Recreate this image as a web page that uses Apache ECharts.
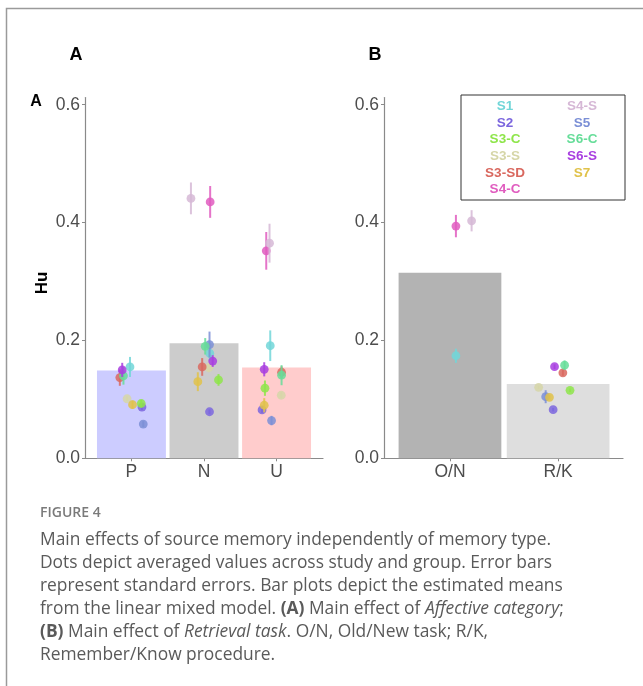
<!DOCTYPE html>
<html>
<head>
<meta charset="utf-8">
<script src="https://cdn.jsdelivr.net/npm/echarts@6/dist/echarts.min.js"></script>
<style>
  html, body { margin: 0; padding: 0; background: #ffffff; }
  #chart { width: 643px; height: 686px; }
</style>
</head>
<body>
<div id="chart"></div>
<script>
// ---- Studies and their colours ----
const studies = ['S1', 'S2', 'S3-C', 'S3-S', 'S3-SD', 'S4-C', 'S4-S', 'S5', 'S6-C', 'S6-S', 'S7'];
const studyColors = ['#72d6d8', '#7b66de', '#8ee54a', '#d6d6a8', '#d9685f', '#e05cbf',
                     '#d6b8d6', '#7b8fd6', '#66dd99', '#a83ee0', '#e0c24a'];

// ---- Panel A: affective category ----
const categoriesA = ['P', 'N', 'U'];
const barMeansA = [0.149, 0.195, 0.154];
const barColorsA = ['#ccccff', '#cccccc', '#ffcccc'];

// study means, standard errors and horizontal jitter (category units), null = not tested
const meansP  = [0.155, 0.087, 0.093, 0.101, 0.137, null, null, 0.058, 0.140, 0.150, 0.091];
const seP     = [0.017, 0.005, 0.006, 0.004, 0.014, null, null, 0.005, 0.015, 0.012, 0.007];
const jitterP = [-0.02, 0.145, 0.135, -0.06, -0.16, null, null, 0.163, -0.11, -0.127, 0.015];

const meansN  = [0.178, 0.079, 0.133, 0.154, 0.155, 0.435, 0.441, 0.193, 0.190, 0.165, 0.130];
const seN     = [0.012, 0.004, 0.010, 0.008, 0.015, 0.027, 0.027, 0.022, 0.014, 0.010, 0.016];
const jitterN = [0.08, 0.076, 0.2, 0.066, -0.025, 0.085, -0.18, 0.076, 0.017, 0.12, -0.085];

const meansU  = [0.191, 0.082, 0.119, 0.107, 0.146, 0.352, 0.365, 0.064, 0.141, 0.151, 0.090];
const seU     = [0.026, 0.005, 0.013, 0.005, 0.010, 0.032, 0.033, 0.008, 0.017, 0.012, 0.012];
const jitterU = [-0.087, -0.2, -0.16, 0.065, 0.069, -0.142, -0.097, -0.069, 0.069, -0.17, -0.17];

// ---- Panel B: retrieval task ----
const categoriesB = ['O/N', 'R/K'];
const barMeansB = [0.315, 0.126];
const barColorsB = ['#b3b3b3', '#dedede'];

const meansON  = [0.174, null, null, null, null, 0.394, 0.403, null, null, null, null];
const seON     = [0.012, null, null, null, null, 0.019, 0.018, null, null, null, null];
const jitterON = [0.055, null, null, null, null, 0.055, 0.2, null, null, null, null];

const meansRK  = [null, 0.0825, 0.1154, 0.1205, 0.145, null, null, 0.1045, 0.158, 0.1555, 0.1035];
const seRK     = [null, 0.003, 0.003, 0.003, 0.005, null, null, 0.011, 0.008, 0.004, 0.004];
const jitterRK = [null, -0.046, 0.11, -0.18, 0.044, null, null, -0.115, 0.06, -0.033, -0.08];

// ---- Y axis ticks ----
const yTicks = [0, 0.2, 0.4, 0.6];

// ---- helpers ----
const BAR_WIDTH = 0.95;
const AXIS_GRAY = '#8a8a8a';
const LABEL_GRAY = '#4d4d4d';
const FONT = '"Liberation Sans", Arial, sans-serif';
const CAPTION_FONT = '"Open Sans", "Noto Sans", sans-serif';

function barData(means, colors) {
  return means.map((v, i) => ({ value: [i, v], itemStyle: { color: colors[i] } }));
}

function pointData(columns) {
  // columns: [{means, se, jitter}] indexed by category position
  const out = [];
  studies.forEach((name, s) => {
    columns.forEach((col, c) => {
      const m = col.means[s];
      if (m == null) return;
      out.push({
        name: name,
        value: [c + col.jitter[s], m, m - col.se[s], m + col.se[s]],
        itemStyle: { color: studyColors[s] }
      });
    });
  });
  return out;
}

function renderBar(params, api) {
  const x = api.value(0), y = api.value(1);
  const p0 = api.coord([x - BAR_WIDTH / 2, y]);
  const p1 = api.coord([x + BAR_WIDTH / 2, 0]);
  return {
    type: 'rect',
    shape: { x: p0[0], y: p0[1], width: p1[0] - p0[0], height: p1[1] - p0[1] },
    style: { fill: api.visual('color') }
  };
}

function renderPointRange(params, api) {
  const x = api.value(0);
  const c = api.coord([x, api.value(1)]);
  const lo = api.coord([x, api.value(2)]);
  const hi = api.coord([x, api.value(3)]);
  const color = api.visual('color');
  return {
    type: 'group',
    children: [
      { type: 'line', shape: { x1: lo[0], y1: lo[1], x2: hi[0], y2: hi[1] },
        style: { stroke: color, lineWidth: 2, opacity: 0.85 } },
      { type: 'circle', shape: { cx: c[0], cy: c[1], r: 4.4 },
        style: { fill: color, opacity: 0.85 } }
    ]
  };
}

function xAxisFor(gridIndex, cats, min, max) {
  const idx = cats.map((_, i) => i);
  return {
    type: 'value', gridIndex, min, max,
    axisLine: { show: true, onZero: false, lineStyle: { color: AXIS_GRAY, width: 1.2 } },
    axisTick: { show: true, customValues: idx, length: 3, lineStyle: { color: AXIS_GRAY } },
    axisLabel: { customValues: idx, formatter: v => cats[Math.round(v)], color: LABEL_GRAY,
                 fontSize: 17.5, fontFamily: FONT, margin: 5 },
    splitLine: { show: false }
  };
}

function yAxisFor(gridIndex) {
  return {
    type: 'value', gridIndex, min: 0, max: 0.612,
    axisLine: { show: true, onZero: false, lineStyle: { color: AXIS_GRAY, width: 1.2 } },
    axisTick: { show: true, customValues: yTicks, length: 3, lineStyle: { color: AXIS_GRAY } },
    axisLabel: { customValues: yTicks, formatter: v => v.toFixed(1), color: LABEL_GRAY,
                 fontSize: 17.5, fontFamily: FONT, margin: 5 },
    splitLine: { show: false }
  };
}

// ---- legend (two columns of coloured study names) ----
const legendGraphics = [{
  type: 'rect', shape: { x: 461, y: 95, width: 164, height: 105 },
  style: { fill: '#ffffff', stroke: '#333333', lineWidth: 1 }, z: 10
}];
studies.forEach((name, i) => {
  const col = i < 6 ? 0 : 1;
  const row = i < 6 ? i : i - 6;
  legendGraphics.push({
    type: 'text', x: col === 0 ? 505 : 582, y: 106.5 + row * 16.6, z: 11,
    style: { text: name, fill: studyColors[i], font: 'bold 13.5px ' + FONT,
             align: 'center', verticalAlign: 'middle' }
  });
});

// ---- caption ----
const CAPTION_SIZE = 17.4;
const CAPTION_COLOR = '#5a5a5a';
const captionLines = [
  'Main effects of source memory independently of memory type.',
  'Dots depict averaged values across study and group. Error bars',
  'represent standard errors. Bar plots depict the estimated means',
  'from the linear mixed model. {b|(A)} Main effect of {i|Affective category};',
  '{b|(B)} Main effect of {i|Retrieval task}. O/N, Old/New task; R/K,',
  'Remember/Know procedure.'
];
const captionRich = {
  b: { fontWeight: 'bold', fontSize: CAPTION_SIZE, fontFamily: CAPTION_FONT, color: CAPTION_COLOR },
  i: { fontStyle: 'italic', fontSize: CAPTION_SIZE, fontFamily: CAPTION_FONT, color: CAPTION_COLOR }
};
const captionGraphics = captionLines.map((t, k) => ({
  type: 'text', x: 40, y: 540 + k * 23,
  style: { text: t, rich: captionRich, fill: CAPTION_COLOR, fontSize: CAPTION_SIZE,
           fontFamily: CAPTION_FONT, verticalAlign: 'middle' }
}));

const option = {
  animation: false,
  backgroundColor: '#ffffff',
  grid: [
    { left: 85, top: 97.6, width: 238, height: 360.7 },
    { left: 384, top: 97.6, width: 239, height: 360.7 }
  ],
  xAxis: [
    xAxisFor(0, categoriesA, -0.64, 2.64),
    xAxisFor(1, categoriesB, -0.61, 1.6)
  ],
  yAxis: [yAxisFor(0), yAxisFor(1)],
  series: [
    { type: 'custom', name: 'Affective category', xAxisIndex: 0, yAxisIndex: 0,
      renderItem: renderBar, data: barData(barMeansA, barColorsA), z: 1 },
    { type: 'custom', name: 'Studies A', xAxisIndex: 0, yAxisIndex: 0,
      renderItem: renderPointRange, z: 2,
      data: pointData([
        { means: meansP, se: seP, jitter: jitterP },
        { means: meansN, se: seN, jitter: jitterN },
        { means: meansU, se: seU, jitter: jitterU }
      ]) },
    { type: 'custom', name: 'Retrieval task', xAxisIndex: 1, yAxisIndex: 1,
      renderItem: renderBar, data: barData(barMeansB, barColorsB), z: 1 },
    { type: 'custom', name: 'Studies B', xAxisIndex: 1, yAxisIndex: 1,
      renderItem: renderPointRange, z: 2,
      data: pointData([
        { means: meansON, se: seON, jitter: jitterON },
        { means: meansRK, se: seRK, jitter: jitterRK }
      ]) }
  ],
  graphic: [
    // card frame
    { type: 'polyline', shape: { points: [[6.5, 686], [6.5, 8.5], [643, 8.5]] },
      style: { stroke: '#9a9a9a', lineWidth: 1.5, fill: null } },
    // panel tags
    { type: 'text', x: 76, y: 55, style: { text: 'A', font: 'bold 18px ' + FONT, fill: '#000',
      align: 'center', verticalAlign: 'middle' } },
    { type: 'text', x: 375, y: 55, style: { text: 'B', font: 'bold 18px ' + FONT, fill: '#000',
      align: 'center', verticalAlign: 'middle' } },
    { type: 'text', x: 36, y: 102, style: { text: 'A', font: 'bold 16px ' + FONT, fill: '#000',
      align: 'center', verticalAlign: 'middle' } },
    // y axis title
    { type: 'text', x: 42, y: 283, rotation: Math.PI / 2,
      style: { text: 'Hu', font: 'bold 17px ' + FONT, fill: '#000', align: 'center', verticalAlign: 'middle' } },
    ...legendGraphics,
    { type: 'text', x: 40, y: 513,
      style: { text: 'FIGURE 4', font: '600 14px ' + CAPTION_FONT, fill: '#7a7a7a', verticalAlign: 'middle' } },
    ...captionGraphics
  ]
};

const chart = echarts.init(document.getElementById('chart'), null, { renderer: 'canvas' });
chart.setOption(option);
</script>
</body>
</html>
